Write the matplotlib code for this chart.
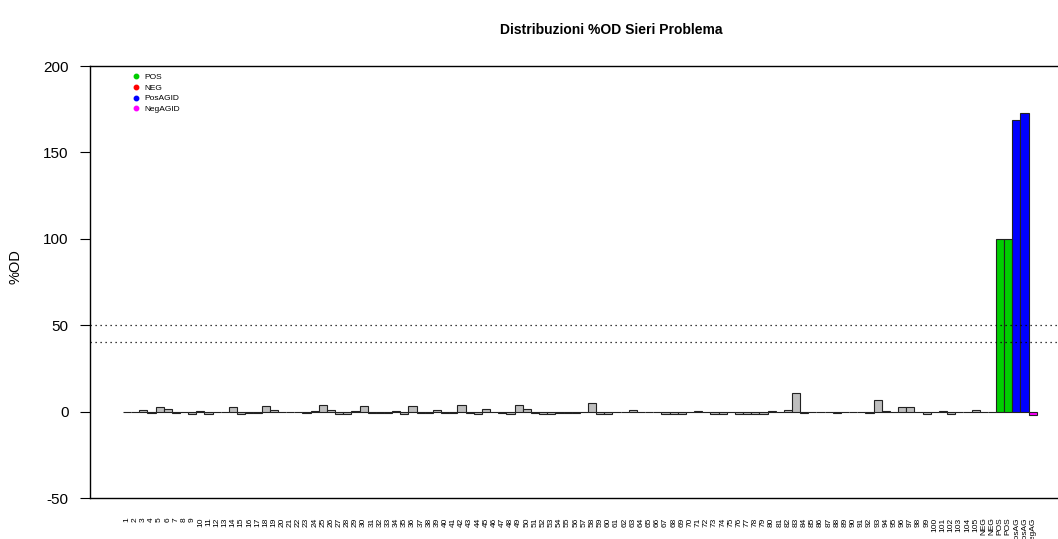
import matplotlib
matplotlib.use('Agg')
import matplotlib.pyplot as plt
from matplotlib.lines import Line2D

plt.rcParams['font.family'] = ['Liberation Sans', 'DejaVu Sans']
plt.rcParams['axes.unicode_minus'] = False

# Sample labels and %OD values
labels = [str(i) for i in range(1, 106)] + ['NEG', 'NEG', 'POS', 'POS', 'PosAG', 'PosAG', 'NegAG']
samples = [-0.5, -0.3, 0.8, -1.0, 2.5, 1.5, -0.8, -0.5, -1.2, 0.5,
           -1.2, -0.3, -0.3, 2.5, -1.2, -1.0, -1.0, 3.5, 0.8, -0.3,
           -0.3, -0.3, -0.8, 0.3, 4.0, 0.8, -1.2, -1.2, 0.3, 3.0,
           -0.8, -1.0, -0.8, 0.3, -1.5, 3.0, -1.0, -1.0, 0.8, -0.8,
           -0.8, 4.0, -1.0, -1.5, 1.5, -0.3, -1.0, -1.2, 4.0, 1.5,
           -0.8, -1.2, -1.2, -1.0, -1.0, -1.0, -0.3, 5.0, -1.5, -1.2,
           -0.2, -0.3, 0.8, -0.5, -0.3, -0.2, -1.2, -1.2, -1.2, -0.3,
           0.5, -0.3, -1.5, -1.2, -0.5, -1.2, -1.2, -1.2, -1.2, 0.3,
           -0.3, 1.0, 10.8, -1.0, -0.3, -0.3, -0.3, -0.8, -0.3, -0.3,
           -0.3, -0.8, 6.5, 0.3, -0.3, 2.5, 2.5, -0.3, -1.5, -0.3,
           0.5, -1.2, -0.3, -0.3, 1.2]
controls = [0.0, 0.0, 100.0, 100.0, 168.5, 173.0, -1.8]
values = samples + controls

sample_color = '#BEBEBE'
control_colors = ['#FF0000', '#FF0000', '#00CD00', '#00CD00', '#0000FF', '#0000FF', '#FF00FF']
colors = [sample_color] * len(samples) + control_colors

legend_labels = ['POS', 'NEG', 'PosAGID', 'NegAGID']
legend_colors = ['#00CD00', '#FF0000', '#0000FF', '#FF00FF']

W, H = 1058, 539
fig = plt.figure(figsize=(W / 100, H / 100), dpi=100)
ax = fig.add_axes([90 / W, 1 - 498 / H, 1 - 90 / W, (498 - 66) / H])

x = list(range(1, len(values) + 1))
ax.bar(x, values, width=1.0, color=colors, edgecolor='#222222', linewidth=0.8)

# cut-off lines
ax.axhline(50, color='black', linestyle=(0, (1, 3)), linewidth=0.9)
ax.axhline(40, color='black', linestyle=(0, (1, 3)), linewidth=0.9)

ax.set_xlim(-3.53, 115.1)
ax.set_ylim(-50, 200)
ax.set_yticks([-50, 0, 50, 100, 150, 200])
ax.tick_params(axis='y', labelsize=11, length=7, pad=8.5, width=0.8)
ax.set_xticks(x)
ax.set_xticklabels(labels, rotation=90, fontsize=6)
ax.tick_params(axis='x', length=0, pad=14)

ax.spines['right'].set_visible(False)
for s in ['left', 'top', 'bottom']:
    ax.spines[s].set_linewidth(1.0)

ax.set_ylabel('%OD', fontsize=10.5)
ax.yaxis.set_label_coords(22 / W, 1 - 267 / H, transform=fig.transFigure)

handles = [Line2D([], [], linestyle='none', marker='o', markersize=3.2,
                  markerfacecolor=c, markeredgecolor=c) for c in legend_colors]
ax.legend(handles, legend_labels, loc='upper left', bbox_to_anchor=(128 / W, 1 - 69 / H),
          bbox_transform=fig.transFigure, frameon=False, fontsize=6,
          handlelength=1.0, handletextpad=0.5, labelspacing=0.35, borderpad=0)

fig.text(611 / W, 1 - 30 / H, 'Distribuzioni %OD Sieri Problema', ha='center', va='center',
         fontsize=10, fontweight='bold')

fig.savefig('out.png', dpi=100)
